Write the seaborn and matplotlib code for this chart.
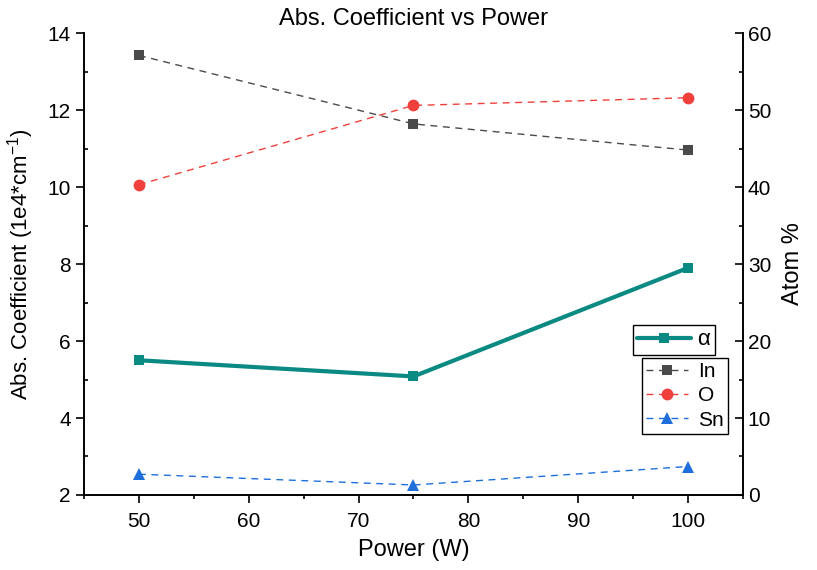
import matplotlib
matplotlib.use("Agg")
import matplotlib.pyplot as plt
import seaborn as sns
import pandas as pd
from matplotlib.ticker import MultipleLocator

power = [50, 75, 100]
alpha_vals = [5.50, 5.08, 7.90]
in_vals = [57.1, 48.2, 44.8]
o_vals = [40.3, 50.6, 51.6]
sn_vals = [2.7, 1.3, 3.7]

sns.set_theme(style="ticks")
plt.rcParams['font.family'] = ['Liberation Sans', 'DejaVu Sans']
plt.rcParams['mathtext.fontset'] = 'custom'
plt.rcParams['mathtext.rm'] = 'Liberation Sans'
plt.rcParams['mathtext.it'] = 'Liberation Sans:italic'
plt.rcParams['text.color'] = 'black'
plt.rcParams['axes.labelcolor'] = 'black'
plt.rcParams['xtick.color'] = 'black'
plt.rcParams['ytick.color'] = 'black'

fig = plt.figure(figsize=(8.17, 5.70), dpi=100)
ax = fig.add_axes([0.1028, 0.1316, 0.8066, 0.8104])
ax2 = ax.twinx()

c_alpha = "#0A8A82"
c_in = "#4A4A4A"
c_o = "#F0403C"
c_sn = "#1E6FDC"

df_a = pd.DataFrame({"Power": power, "val": alpha_vals})
sns.lineplot(data=df_a, x="Power", y="val", ax=ax, color=c_alpha, lw=3,
             marker="s", markersize=7.5, markeredgewidth=0, label="α")

for vals, col, mk, ms, name in [(in_vals, c_in, "s", 7, "In"),
                                (o_vals, c_o, "o", 8.5, "O"),
                                (sn_vals, c_sn, "^", 8.5, "Sn")]:
    d = pd.DataFrame({"Power": power, "val": vals})
    sns.lineplot(data=d, x="Power", y="val", ax=ax2, color=col, lw=1,
                 linestyle=(0, (5, 4)), marker=mk, markersize=ms,
                 markeredgewidth=0, label=name)

ax.set_xlim(45, 105)
ax.set_ylim(2, 14)
ax2.set_ylim(0, 60)
ax.xaxis.set_major_locator(MultipleLocator(10))
ax.xaxis.set_minor_locator(MultipleLocator(5))
ax.yaxis.set_major_locator(MultipleLocator(2))
ax.yaxis.set_minor_locator(MultipleLocator(1))
ax2.yaxis.set_major_locator(MultipleLocator(10))
ax2.yaxis.set_minor_locator(MultipleLocator(5))

for a in (ax, ax2):
    for s in a.spines.values():
        s.set_linewidth(1.2)
        s.set_color("black")
    a.spines['top'].set_visible(False)

ax.tick_params(axis='x', which='major', direction='out', length=6, width=1.2, labelsize=15, pad=6)
ax.tick_params(axis='x', which='minor', direction='out', length=3, width=1.2)
ax.tick_params(axis='y', which='major', direction='out', length=6, width=1.2, labelsize=15)
ax.tick_params(axis='y', which='minor', direction='in', length=3, width=1.2)
ax2.tick_params(axis='y', which='major', direction='in', length=6, width=1.2, labelsize=15)
ax2.tick_params(axis='y', which='minor', direction='in', length=3, width=1.2)

ax.set_xlabel("Power (W)", fontsize=17, labelpad=6)
ax.set_ylabel(r"Abs. Coefficient (1e4*cm$^{-1}$)", fontsize=16, labelpad=8)
ax2.set_ylabel("Atom %", fontsize=17, labelpad=8)
ax.set_title("Abs. Coefficient vs Power", fontsize=17, pad=6)

leg1 = ax.legend(loc="upper left", bbox_to_anchor=(0.833, 0.368), fontsize=16,
                 frameon=True, fancybox=False, edgecolor="black", framealpha=1,
                 handlelength=2.4, borderpad=0.2, handletextpad=0.3, borderaxespad=0)
leg1.get_frame().set_linewidth(1.0)
leg2 = ax2.legend(loc="upper left", bbox_to_anchor=(0.847, 0.2965), fontsize=15,
                  frameon=True, fancybox=False, edgecolor="black", framealpha=1,
                  handlelength=2.0, borderpad=0.2, handletextpad=0.5,
                  labelspacing=0.25, borderaxespad=0)
leg2.get_frame().set_linewidth(1.0)

fig.savefig("out.png", dpi=100)
